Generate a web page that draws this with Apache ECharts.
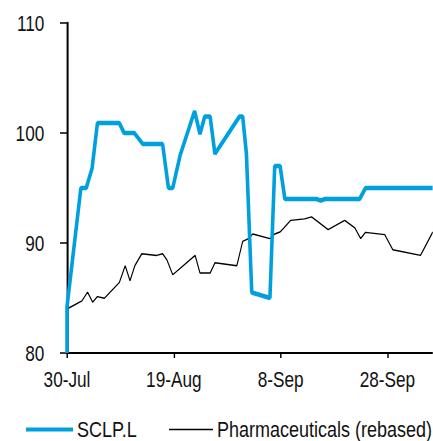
<!DOCTYPE html>
<html>
<head>
<meta charset="utf-8">
<script src="https://cdn.jsdelivr.net/npm/echarts@6/dist/echarts.min.js"></script>
<style>
html,body{margin:0;padding:0;background:#fff;overflow:hidden}
#wrap{width:433px;height:441px;overflow:hidden;position:relative}
#c{width:541.25px;height:441px;transform:scaleX(0.8);transform-origin:0 0;position:absolute;left:0;top:0}
</style>
</head>
<body>
<div id="wrap"><div id="c"></div></div>
<script>
// Days since 30-Jul and values
const tickLabels = ['30-Jul', '19-Aug', '8-Sep', '28-Sep'];
const sclpDays = [0, 0, 2.6, 3.6, 4.7, 5.7, 9.8, 10.7, 12.6, 14.2, 17.9, 19.0, 19.8, 21.2, 23.9, 24.9, 25.8, 26.8, 27.7, 32.3, 32.9, 33.6, 34.6, 38.0, 38.9, 39.9, 40.8, 46.7, 47.5, 48.3, 54.8, 55.9, 68.5];
const sclpValues = [80, 84.2, 95.0, 95.0, 96.8, 100.9, 100.9, 100.0, 100.0, 99.0, 99.0, 95.0, 95.0, 98.0, 102.0, 99.9, 101.5, 101.5, 98.1, 101.5, 101.5, 98.1, 85.5, 85.0, 97.0, 97.0, 94.0, 94.0, 93.85, 94.0, 94.0, 95.0, 95.0];
const pharmaDays = [0, 2.8, 3.85, 4.8, 5.7, 7.0, 9.8, 10.9, 11.8, 12.7, 14.0, 16.8, 17.9, 18.7, 19.8, 24.0, 24.9, 26.8, 27.7, 31.8, 32.9, 33.8, 34.8, 38.0, 38.9, 39.9, 40.6, 41.9, 44.5, 45.8, 48.9, 52.0, 53.9, 55.0, 55.9, 59.5, 61.0, 66.2, 68.5];
const pharmaValues = [84.0, 84.74, 85.53, 84.62, 85.13, 84.98, 86.41, 87.93, 86.56, 87.93, 89.02, 88.87, 89.02, 88.48, 87.11, 88.87, 87.27, 87.27, 88.2, 87.93, 90.15, 90.36, 90.82, 90.4, 90.82, 91.0, 91.37, 92.06, 92.19, 92.37, 91.21, 92.06, 91.37, 90.4, 90.97, 90.76, 89.39, 88.87, 91.0];
const seriesNames = ['SCLP.L', 'Pharmaceuticals (rebased)'];

const FONT = "'Liberation Sans', Arial, sans-serif";
const SX = 0.8; // horizontal compression of the reference drawing
const px = v => v / SX;
const zip = (a, b) => a.map((d, i) => [d, b[i]]);

const chart = echarts.init(document.getElementById('c'), null, {renderer: 'svg'});
chart.setOption({
  animation: false,
  backgroundColor: '#fff',
  grid: {left: px(67), right: 0, top: 23, bottom: 88, containLabel: false},
  xAxis: {
    type: 'value', min: 0, max: 68.5, interval: 20,
    axisLine: {show: true, lineStyle: {color: '#000', width: 2}},
    axisTick: {show: true, length: 5, lineStyle: {color: '#000', width: 1.8}},
    splitLine: {show: false},
    axisLabel: {
      margin: 15, fontSize: 21.5, color: '#111', fontFamily: FONT, showMaxLabel: false,
      formatter: v => (Math.abs(v / 20 - Math.round(v / 20)) < 1e-6 ? (tickLabels[Math.round(v / 20)] || '') : '')
    }
  },
  yAxis: {
    type: 'value', min: 80, max: 110, interval: 10,
    axisLine: {show: true, lineStyle: {color: '#000', width: 2.5}},
    axisTick: {show: true, length: px(7), lineStyle: {color: '#000', width: 1.5}},
    splitLine: {show: false},
    axisLabel: {margin: px(22.7), fontSize: 21.5, color: '#111', fontFamily: FONT}
  },
  legend: [
    {data: [seriesNames[0]], left: px(26), top: 418, padding: 0, icon: 'rect', itemWidth: px(47), itemHeight: 4,
     textStyle: {fontSize: 22.5, color: '#111', fontFamily: FONT}},
    {data: [seriesNames[1]], left: px(169), top: 418, padding: 0, icon: 'rect', itemWidth: px(44), itemHeight: 1.5,
     textStyle: {fontSize: 22.5, color: '#111', fontFamily: FONT}}
  ],
  series: [
    {name: seriesNames[1], type: 'line', data: zip(pharmaDays, pharmaValues), showSymbol: false, symbol: 'none',
     lineStyle: {color: '#000', width: 1.4}, itemStyle: {color: '#000'}, z: 2},
    {name: seriesNames[0], type: 'line', data: zip(sclpDays, sclpValues), showSymbol: false, symbol: 'none',
     lineStyle: {color: '#00A0DF', width: 4.5}, itemStyle: {color: '#00A0DF'}, z: 3}
  ]
});
</script>
</body>
</html>
